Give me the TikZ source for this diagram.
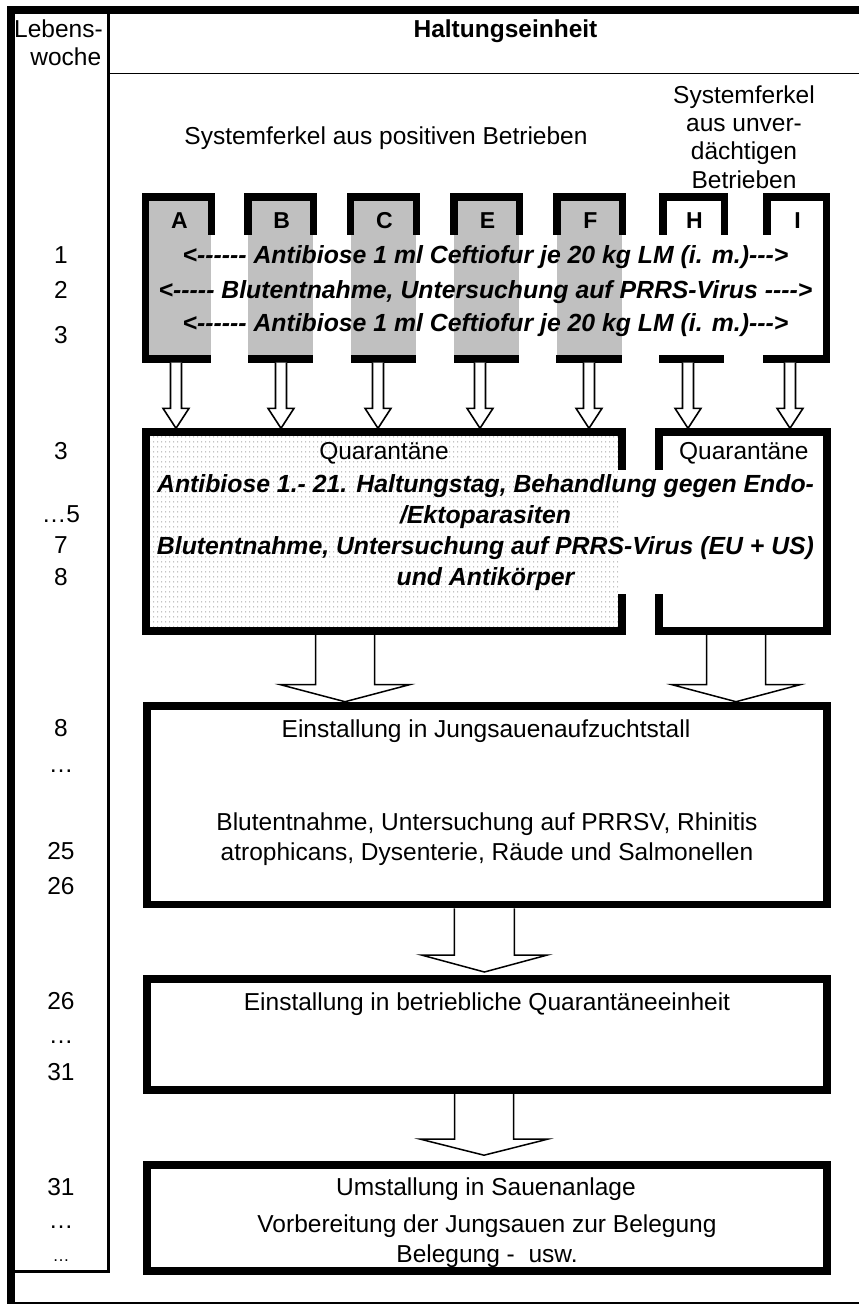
\documentclass[tikz,border=0pt]{standalone}
\usepackage{fontspec}
\newfontfamily\arial{Liberation Sans}
\usetikzlibrary{calc,patterns}
\pgfdeclarepatternformonly{qdots}{\pgfpointorigin}{\pgfpoint{4pt}{5pt}}{\pgfpoint{4pt}{5pt}}{%
  \pgfpathrectangle{\pgfpoint{1.5pt}{2pt}}{\pgfpoint{1pt}{1pt}}\pgfusepath{fill}}
\definecolor{colgray}{RGB}{192,192,192}
\definecolor{dotgray}{RGB}{165,165,165}
\newcommand\blockarrow[6][]{%
  \draw[#1] let \p1=(#2), \p2=(#3) in
    (\x1-#4pt,\y1) -- (\x1-#4pt,\y2+#6pt) -- (\x1-#5pt,\y2+#6pt) -- (\x1,\y2)
    -- (\x1+#5pt,\y2+#6pt) -- (\x1+#4pt,\y2+#6pt) -- (\x1+#4pt,\y1);}
\begin{document}
\begin{tikzpicture}[x=1pt,y=-1pt,
  txt/.style={anchor=base,inner sep=0pt,font=\arial\fontsize{24.5}{29}\selectfont},
  btxt/.style={txt,font=\arial\bfseries\fontsize{24.5}{29}\selectfont},
  bitxt/.style={txt,font=\arial\bfseries\itshape\fontsize{24.8}{29}\selectfont},
  lettxt/.style={txt,font=\arial\bfseries\fontsize{23}{27}\selectfont},
  smalltxt/.style={txt,font=\arial\fontsize{17}{20}\selectfont},
  region/.style={inner sep=0pt,outer sep=0pt},
  bigbox/.style={draw,line width=7.8pt,inner sep=0pt,minimum width=679.7pt},
  thinarrow/.style={draw,fill=white,line width=1.6pt},
  widearrow/.style={draw,fill=white,line width=1.5pt},
]
\useasboundingbox (0,0) rectangle (859,1304);
\fill[white] (0,0) rectangle (859,1304);

% table frame
\fill (6.7,6) rectangle (859,14);
\fill (6.7,6) rectangle (15,1304);
\fill (6.7,1301.5) rectangle (859,1304);
\fill (106.5,14) rectangle (109.5,1273.3);
\fill (15,1270) rectangle (109.5,1273.3);
\draw[line width=1.3pt] (109.5,73.3) -- (859,73.3);

% header
\node[txt] (lw1) at (58.5,37.5) {Lebens-};
\node[txt] (lw2) at (65.8,65.5) {woche};
\node[btxt] (head) at (505.5,37.5) {Haltungseinheit};
\node[txt] (pos) at (386,144.3) {Systemferkel aus positiven Betrieben};
\node[txt] (neg1) at (744,103.3) {Systemferkel};
\node[txt] (neg2) at (744,131.6) {aus unver-};
\node[txt] (neg3) at (744,159.9) {dächtigen};
\node[txt] (neg4) at (744,188.2) {Betrieben};

% columns
\foreach \n/\L/\R/\fc/\bl/\br in {A/141.7/215/colgray/0/4, B/244/317.3/colgray/4/4, C/346.7/420/colgray/4/4, E/450/523.3/colgray/4/4, F/553/626/colgray/3/4, H/659/728/white/0/4, I/763/830/white/0/0}{
  \fill[\fc] (\L+4,200.8) rectangle (\R-4,355.2);
  \fill (\L,193.3) rectangle (\R,200.8);
  \fill (\L,193.3) rectangle (\L+7.5,235);
  \fill (\R-7.5,193.3) rectangle (\R,235);
  \fill (\L+\bl,355.2) rectangle (\R-\br,362.7);
  \node[region,minimum width={(\R-\L)*1pt},minimum height=169.4pt] (col\n) at ({(\L+\R)/2},278) {};
  \node[lettxt] (let\n) at ({(\L+\R)/2+1},228.5) {\n};
}
\fill (141.7,193.3) rectangle (149.2,362.7);
\fill (822.5,193.3) rectangle (830,362.7);

\node[bitxt] (t1) at (485.5,263.5) {<------ Antibiose 1 ml Ceftiofur je 20 kg LM (i. m.)--->};
\node[bitxt] (t2) at (485.5,298.5) {<----- Blutentnahme, Untersuchung auf PRRS-Virus ---->};
\node[bitxt] (t3) at (485.5,331) {<------ Antibiose 1 ml Ceftiofur je 20 kg LM (i. m.)--->};

% quarantine boxes
\fill[pattern=qdots,pattern color=dotgray] (149.8,436.1) rectangle (618.3,627);
\fill (141.7,428.3) rectangle (626,436.1);
\fill (141.7,428.3) rectangle (149.8,635);
\fill (141.7,627) rectangle (626,635);
\fill (618.3,428.3) rectangle (626,470);
\fill (618.3,594) rectangle (626,635);
\fill (655,428.3) rectangle (830.7,436.1);
\fill (822.9,428.3) rectangle (830.7,635);
\fill (655,627) rectangle (830.7,635);
\fill (655,428.3) rectangle (663,470);
\fill (655,594) rectangle (663,635);
\node[region,minimum width=484.3pt,minimum height=206.7pt] (qL) at (383.85,531.65) {};
\node[region,minimum width=175.7pt,minimum height=206.7pt] (qR) at (742.85,531.65) {};

\node[txt] (ql) at (384,459.3) {Quarantäne};
\node[txt] (qr) at (743.8,459.3) {Quarantäne};
\node[bitxt] (q1t) at (485.5,492.5) {Antibiose 1.- 21. Haltungstag, Behandlung gegen Endo-};
\node[bitxt] (q2t) at (485.5,523.3) {/Ektoparasiten};
\node[bitxt] (q3t) at (485.5,554.1) {Blutentnahme, Untersuchung auf PRRS-Virus (EU + US)};
\node[bitxt] (q4t) at (485.5,585) {und Antikörper};

% main boxes
\node[bigbox,minimum height=198.8pt] (box1) at (486.75,805) {};
\node[bigbox,minimum height=111.2pt] (box2) at (486.75,1034.5) {};
\node[bigbox,minimum height=106.2pt] (box3) at (486.75,1217.7) {};

\node[txt] (b1a) at (486,737) {Einstallung in Jungsauenaufzuchtstall};
\node[txt] (b1b) at (487,830.5) {Blutentnahme, Untersuchung auf PRRSV, Rhinitis};
\node[txt] (b1c) at (487,860.5) {atrophicans, Dysenterie, Räude und Salmonellen};
\node[txt] (b2a) at (487,1010.5) {Einstallung in betriebliche Quarantäneeinheit};
\node[txt] (b3a) at (486,1195.5) {Umstallung in Sauenanlage};
\node[txt] (b3b) at (487,1232) {Vorbereitung der Jungsauen zur Belegung};
\node[txt] (b3c) at (487,1262) {Belegung -\ \ usw.};

% week labels
\node[txt] (w1) at (61,263.5) {1};
\node[txt] (w2) at (61,298.5) {2};
\node[txt] (w3) at (61,343) {3};
\node[txt] (w4) at (61,459.5) {3};
\node[txt] (w5) at (61,522) {…5};
\node[txt] (w6) at (61,553.3) {7};
\node[txt] (w7) at (61,585) {8};
\node[txt] (w8) at (61,736.5) {8};
\node[txt] (w9) at (61,772) {…};
\node[txt] (w10) at (61,859) {25};
\node[txt] (w11) at (61,894) {26};
\node[txt] (w12) at (61,1009) {26};
\node[txt] (w13) at (61,1043) {…};
\node[txt] (w14) at (61,1080.5) {31};
\node[txt] (w15) at (61,1195.5) {31};
\node[txt] (w16) at (61,1228.5) {…};
\node[smalltxt] (w17) at (61,1261) {…};

% arrows columns -> quarantine
\foreach \cc/\ax/\qq in {A/176/qL,B/281/qL,C/378/qL,E/480/qL,F/589/qL,H/688/qR,I/790/qR}{
  \blockarrow[thinarrow]{\ax,0 |- col\cc.south}{\ax,0 |- \qq.north}{5.5}{13}{20}
}
% wide arrows
\coordinate (aq1) at (345,0 |- qL.south);
\coordinate (aq2) at (736,0 |- qR.south);
\coordinate (ab1) at (484.4,0 |- box1.south);
\coordinate (ab2) at (484,0 |- box2.south);
\blockarrow[widearrow]{aq1}{aq1 |- box1.north}{29.5}{64.5}{17}
\blockarrow[widearrow]{aq2}{aq2 |- box1.north}{29.5}{64}{17}
\blockarrow[widearrow]{ab1}{$(ab1 |- box2.north)+(0,-3)$}{30}{63}{17}
\blockarrow[widearrow]{ab2}{$(ab2 |- box3.north)+(0,-5.5)$}{29.5}{63.5}{16}
\end{tikzpicture}
\end{document}
